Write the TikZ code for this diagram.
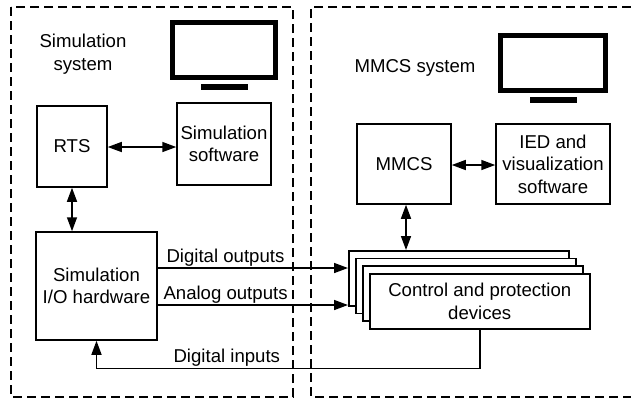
\documentclass[tikz,border=0pt]{standalone}
\usepackage{fontspec}
\setmainfont{Liberation Sans}
\usetikzlibrary{arrows.meta}

\begin{document}
\begin{tikzpicture}[x=1pt,y=-1pt,
	every node/.style={font=\fontsize{18.6}{22.5}\selectfont,align=center,inner sep=1pt},
	box/.style={draw,line width=1.5pt,fill=white},
	sysframe/.style={draw,line width=2pt,dash pattern=on 9pt off 5pt},
	screen/.style={draw,line width=5pt},
	arr/.style={line width=1.5pt,-{Triangle[length=14pt,width=10pt]}},
	biarr/.style={line width=1.5pt,{Triangle[length=14pt,width=10pt]}-{Triangle[length=14pt,width=10pt]}}]
	  \useasboundingbox (0,0) rectangle (631,400);

	  % the two systems
	  \draw[sysframe] (11,7) rectangle (293,397);
	  \draw[sysframe] (631,7) -- (311,7) -- (311,397) -- (631,397);

	  % monitors
	  \foreach \x/\y/\w in {170/20/108,498/33/110}{%
	  \draw[screen] (\x+2.5,\y+2.5) rectangle ++(\w-5,55);
	  \fill (\x+\w/2-23.5,\y+63.5) rectangle ++(47,6.5);
	  }

	  \node (simlbl) at (83,54) {Simulation\\system};
	  \node[box,minimum width=70pt,minimum height=81pt] (rts) at (72,146.5) {RTS};
	  \node[box,minimum width=94pt,minimum height=82pt] (simsw) at (224,144) {Simulation\\software};
	  \node[box,minimum width=121pt,minimum height=108pt] (simio) at (96.5,286) {Simulation\\I/O hardware};

	  \node (mmcslbl) at (415,68) {MMCS system};
	  \node[box,minimum width=94pt,minimum height=80pt] (mmcs) at (404,164) {MMCS};
	  \node[box,minimum width=114pt,minimum height=80pt] (ied) at (553,164) {IED and\\visualization\\software};

	  \foreach \i in {0,1,2}{%
	  \node[box,minimum width=220pt,minimum height=55pt,anchor=north west] (dev\i) at (348+7*\i,250+7.7*\i) {};
	  }
	  \node[box,minimum width=220pt,minimum height=55pt,anchor=north west] (dev3) at (369,273) {Control and protection\\devices};

	  \draw[biarr] (rts.east |- 0,147) -- (simsw.west |- 0,147);
	  \draw[biarr] (rts.south) -- (rts.south |- simio.north);
	  \draw[biarr] (mmcs.east |- 0,165) -- (ied.west |- 0,165);
	  \draw[biarr] (mmcs.south -| 406,0) -- (dev0.north -| 406,0);

	  \draw[arr] (simio.east |- 0,268) -- (dev0.west |- 0,268) node[pos=0,above right,xshift=7pt] {Digital outputs};
	  \draw[arr] (simio.east |- 0,305) -- (dev0.west |- 0,305) node[pos=0,above right,xshift=4pt] {Analog outputs};
	  \draw[arr] (dev3.south) -- ++(0,39) -| (simio.south) node[pos=0.33,above] {Digital inputs};

	\end{tikzpicture}
\end{document}
